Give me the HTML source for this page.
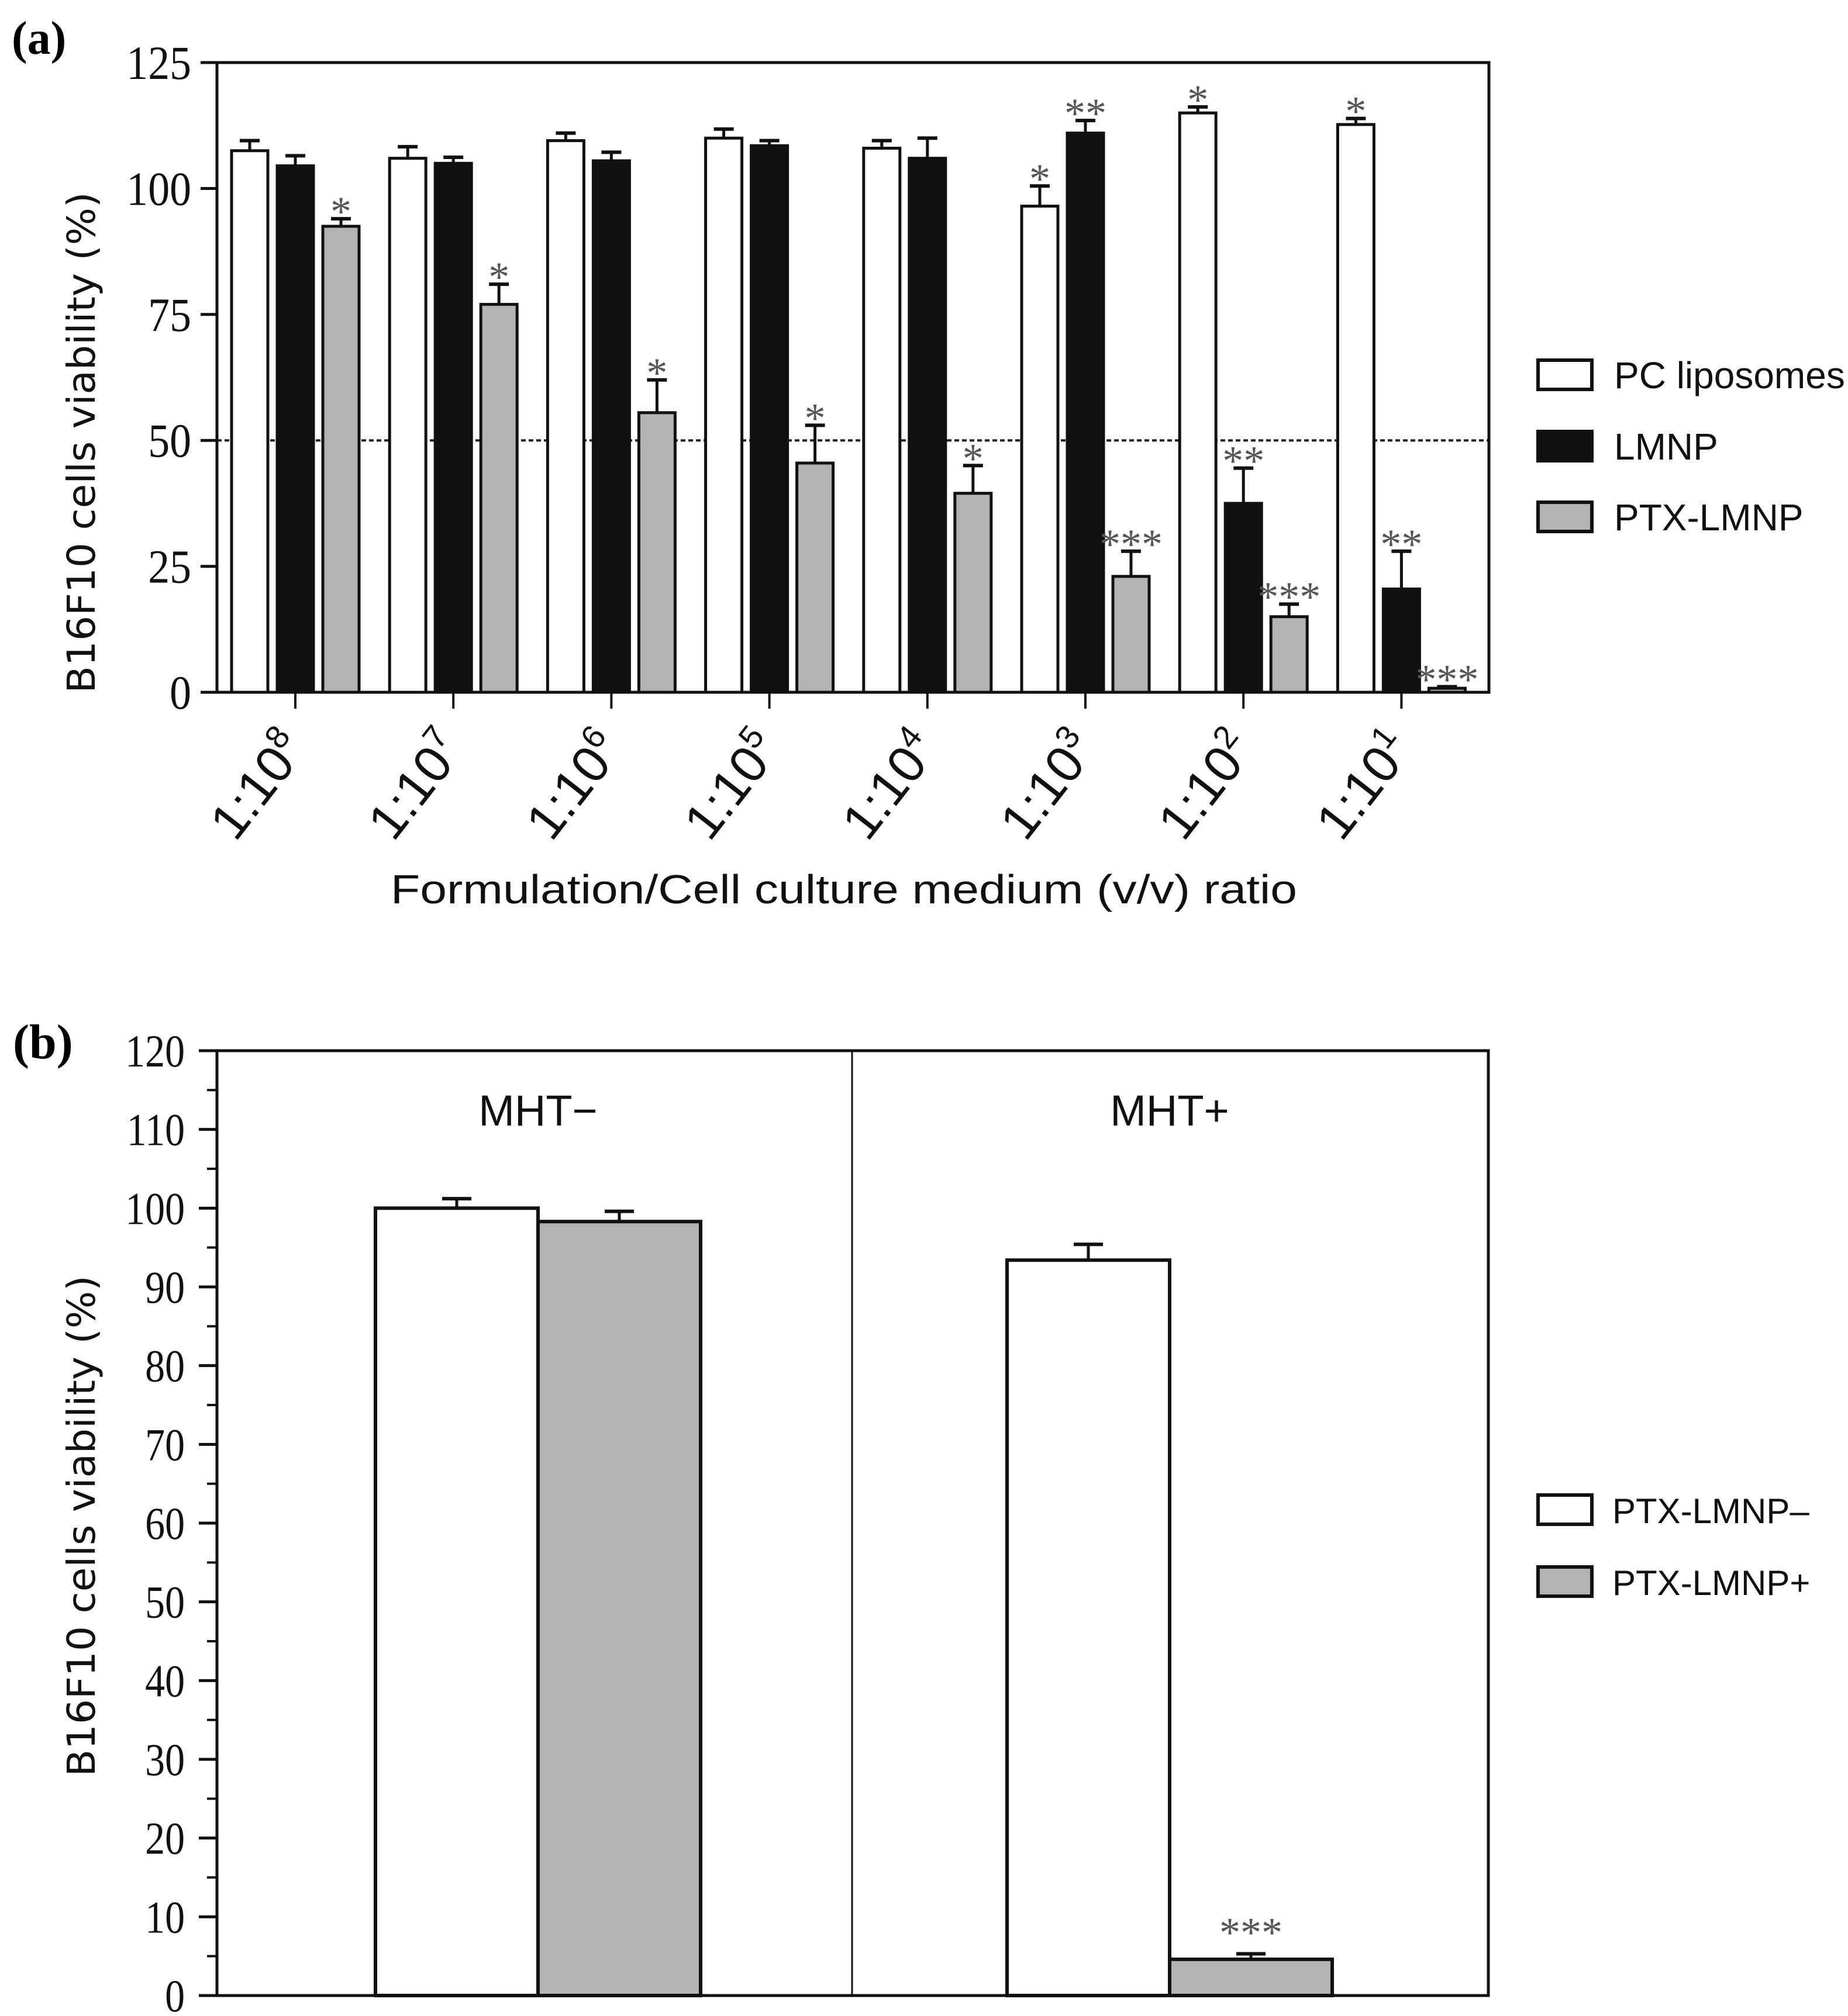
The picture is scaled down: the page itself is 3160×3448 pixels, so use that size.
<!DOCTYPE html>
<html><head><meta charset="utf-8">
<style>
html,body{margin:0;padding:0;background:#fff;}
svg{display:block;}
</style></head>
<body>
<svg id="fig" width="3160" height="3448" viewBox="0 0 3160 3448" xmlns="http://www.w3.org/2000/svg">
<rect x="0" y="0" width="3160" height="3448" fill="#fff"/>
<g id="pa"></g>
<g id="pb"></g>
</svg>
<script>
// ---------- Panel (a) data ----------
const aCategories = ["8","7","6","5","4","3","2","1"];
const aWhite = [107.5, 106, 109.5, 110, 108, 96.5, 115, 112.7];
const aWhiteErr = [2, 2.3, 1.5, 1.8, 1.5, 4, 1.2, 1.2];
const aBlack = [104.5, 105, 105.5, 108.5, 106, 111, 37.5, 20.5];
const aBlackErr = [2, 1.2, 1.7, 1, 4, 2.5, 7, 7.5];
const aGray = [92.5, 77, 55.5, 45.5, 39.5, 23, 15, 0.8];
const aGrayErr = [1.5, 4, 6.5, 7.5, 5.5, 5, 2.5, 0.3];
const aWhiteStars = ["", "", "", "", "", "*", "*", "*"];
const aBlackStars = ["", "", "", "", "", "**", "**", "**"];
const aGrayStars = ["*", "*", "*", "*", "*", "***", "***", "***"];
const aTicks = [0, 25, 50, 75, 100, 125];
const aLegend = ["PC liposomes", "LMNP", "PTX-LMNP"];
// ---------- Panel (b) data ----------
const bGroups = ["MHT\u2212", "MHT+"];
const bWhite = [100, 93.4];
const bWhiteErr = [1.2, 2];
const bGray = [98.3, 4.6];
const bGrayErr = [1.3, 0.7];
const bGrayStars = ["", "***"];
const bTicks = [0, 10, 20, 30, 40, 50, 60, 70, 80, 90, 100, 110, 120];
const bLegend = ["PTX-LMNP\u2013", "PTX-LMNP+"];

const NS = "http://www.w3.org/2000/svg";
function mk(parent, tag, attrs, text) {
  const e = document.createElementNS(NS, tag);
  for (const k in attrs) e.setAttribute(k, attrs[k]);
  if (text !== undefined) e.textContent = text;
  parent.appendChild(e);
  return e;
}
const SERIF = "'Liberation Serif', serif";
const SANS = "'Liberation Sans', sans-serif";
const STARC = "#555";

// ================= Panel A =================
(function () {
  const g = document.getElementById("pa");
  const L = 371, R = 2546, T = 107, B = 1184;
  const yA = v => B - v * (B - T) / 125;
  const xTick = i => 505 + i * 270.2;
  const bw = 62, off = 78;

  let t = mk(g, "text", {x: 20, y: 92, "font-family": SERIF, "font-weight": "bold", "font-size": 80}, "(a)");
  
  

  let dl = mk(g, "line", {x1: L, x2: R, y1: yA(50), y2: yA(50), stroke: "#222", "stroke-width": 4, "stroke-dasharray": "8 5"});
  
  

  aTicks.forEach(v => {
    const y = yA(v);
    const tk = mk(g, "line", {x1: 343, x2: L, y1: y, y2: y, stroke: "#111", "stroke-width": 5});
    
    
    const lb = mk(g, "text", {x: 327, y: y + 28, "text-anchor": "end", "font-family": SERIF, "font-size": 82, fill: "#111", transform: `translate(${327},0) scale(0.9,1) translate(${-327},0)`}, String(v));
    
    
  });

  function bar(cx, v, e, fill, star, name) {
    const y = yA(v), ye = yA(v + e);
    const ln = mk(g, "line", {x1: cx, x2: cx, y1: y, y2: ye, stroke: "#111", "stroke-width": 5});
    
    
    const cp = mk(g, "line", {x1: cx - 17, x2: cx + 17, y1: ye, y2: ye, stroke: "#111", "stroke-width": 6});
    
    
    const r = mk(g, "rect", {x: cx - bw / 2, y: y, width: bw, height: Math.max(B - y, 0.5), fill: fill, stroke: "#111", "stroke-width": 5});
    
    
    if (star) {
      const s = mk(g, "text", {x: cx, y: ye + 12, "text-anchor": "middle", "font-family": SERIF, "font-size": 72, fill: STARC}, star);
      
      
    }
  }
  aCategories.forEach((c, i) => {
    const cx = xTick(i);
    bar(cx - off, aWhite[i], aWhiteErr[i], "#fff", aWhiteStars[i], "bar-pc-liposomes");
    bar(cx, aBlack[i], aBlackErr[i], "#111", aBlackStars[i], "bar-lmnp");
    bar(cx + off, aGray[i], aGrayErr[i], "#b3b3b3", aGrayStars[i], "bar-ptx-lmnp");
    const tk = mk(g, "line", {x1: cx, x2: cx, y1: B, y2: 1212, stroke: "#111", "stroke-width": 4});
    
    
    const lx = cx + 22, ly = 1282;
    const lb = mk(g, "text", {x: lx, y: ly, "text-anchor": "end", "font-family": SANS, "font-size": 88, fill: "#111", transform: `rotate(-52 ${lx} ${ly})`});
    
    
    mk(lb, "tspan", {}, "1:10");
    mk(lb, "tspan", {dy: -36, "font-size": 56}, c);
  });

  const fr = mk(g, "path", {d: `M${L} ${T} H${R} V${B} H${L} Z`, fill: "none", stroke: "#111", "stroke-width": 5});
  
  

  const xt = mk(g, "text", {x: 1443, y: 1545, "text-anchor": "middle", "font-family": SANS, "font-size": 70, fill: "#111", textLength: 1550, lengthAdjust: "spacingAndGlyphs"}, "Formulation/Cell culture medium (v/v) ratio");
  
  
  const yt = mk(g, "text", {x: 0, y: 0, "text-anchor": "middle", "font-family": "'DejaVu Sans', sans-serif", "font-size": 66, fill: "#111", textLength: 857, lengthAdjust: "spacingAndGlyphs", transform: "translate(162,757) rotate(-90)"}, "B16F10 cells viability (%)");
  
  

  const fills = ["#fff", "#111", "#b3b3b3"];
  const ys = [614, 736, 857];
  aLegend.forEach((n, i) => {
    const r = mk(g, "rect", {x: 2630, y: ys[i] + 2, width: 92, height: 50, fill: fills[i], stroke: "#111", "stroke-width": 6});
    
    
    const tx = mk(g, "text", {x: 2760, y: ys[i] + 50, "font-family": SANS, "font-size": 64, fill: "#111"}, n);
    
    
  });
})();

// ================= Panel B =================
(function () {
  const g = document.getElementById("pb");
  const L = 371, R = 2545, T = 1797, B = 3413;
  const yB = v => B - v * (B - T) / 120;
  const groupLeft = [642, 1722];
  const bw = 278;

  let t = mk(g, "text", {x: 22, y: 1810, "font-family": SERIF, "font-weight": "bold", "font-size": 84}, "(b)");
  
  

  bTicks.forEach(v => {
    const y = yB(v);
    const tk = mk(g, "line", {x1: 340, x2: L, y1: y, y2: y, stroke: "#111", "stroke-width": 5});
    
    
    const lb = mk(g, "text", {x: 316, y: y + 27, "text-anchor": "end", "font-family": SERIF, "font-size": 78, fill: "#111", transform: `translate(316,0) scale(0.87,1) translate(-316,0)`}, String(v));
    
    
    if (v < 120) {
      const m = mk(g, "line", {x1: 354, x2: L, y1: yB(v + 5), y2: yB(v + 5), stroke: "#111", "stroke-width": 4});
      
      
    }
  });

  function bar(x, v, e, fill, star, name) {
    const cx = x + bw / 2, y = yB(v), ye = yB(v + e);
    const ln = mk(g, "line", {x1: cx, x2: cx, y1: y, y2: ye, stroke: "#111", "stroke-width": 5});
    
    
    const cp = mk(g, "line", {x1: cx - 25, x2: cx + 25, y1: ye, y2: ye, stroke: "#111", "stroke-width": 6});
    
    
    const r = mk(g, "rect", {x: x, y: y, width: bw, height: B - y, fill: fill, stroke: "#111", "stroke-width": 6});
    
    
    if (star) {
      const s = mk(g, "text", {x: cx, y: ye - 12, "text-anchor": "middle", "font-family": SERIF, "font-size": 72, fill: STARC}, star);
      
      
    }
  }
  bGroups.forEach((gname, i) => {
    bar(groupLeft[i], bWhite[i], bWhiteErr[i], "#fff", "", "bar-ptx-lmnp-minus");
    bar(groupLeft[i] + bw, bGray[i], bGrayErr[i], "#b3b3b3", bGrayStars[i], "bar-ptx-lmnp-plus");
    const gl = mk(g, "text", {x: groupLeft[i] + bw, y: 1925, "text-anchor": "middle", "font-family": SANS, "font-size": 74, fill: "#111"}, gname);
    
    
  });

  const dv = mk(g, "line", {x1: 1457, x2: 1457, y1: T, y2: B, stroke: "#111", "stroke-width": 3});
  
  
  const fr = mk(g, "path", {d: `M${L} ${T} H${R} V${B} H${L} Z`, fill: "none", stroke: "#111", "stroke-width": 5});
  
  

  const yt = mk(g, "text", {x: 0, y: 0, "text-anchor": "middle", "font-family": "'DejaVu Sans', sans-serif", "font-size": 66, fill: "#111", textLength: 857, lengthAdjust: "spacingAndGlyphs", transform: "translate(162,2610) rotate(-90)"}, "B16F10 cells viability (%)");
  
  

  const fills = ["#fff", "#b3b3b3"];
  const ys = [2557, 2680];
  bLegend.forEach((n, i) => {
    const r = mk(g, "rect", {x: 2630, y: ys[i], width: 92, height: 50, fill: fills[i], stroke: "#111", "stroke-width": 6});
    
    
    const tx = mk(g, "text", {x: 2757, y: ys[i] + 48, "font-family": SANS, "font-size": 60, fill: "#111"}, n);
    
    
  });
})();
</script>
</body></html>
